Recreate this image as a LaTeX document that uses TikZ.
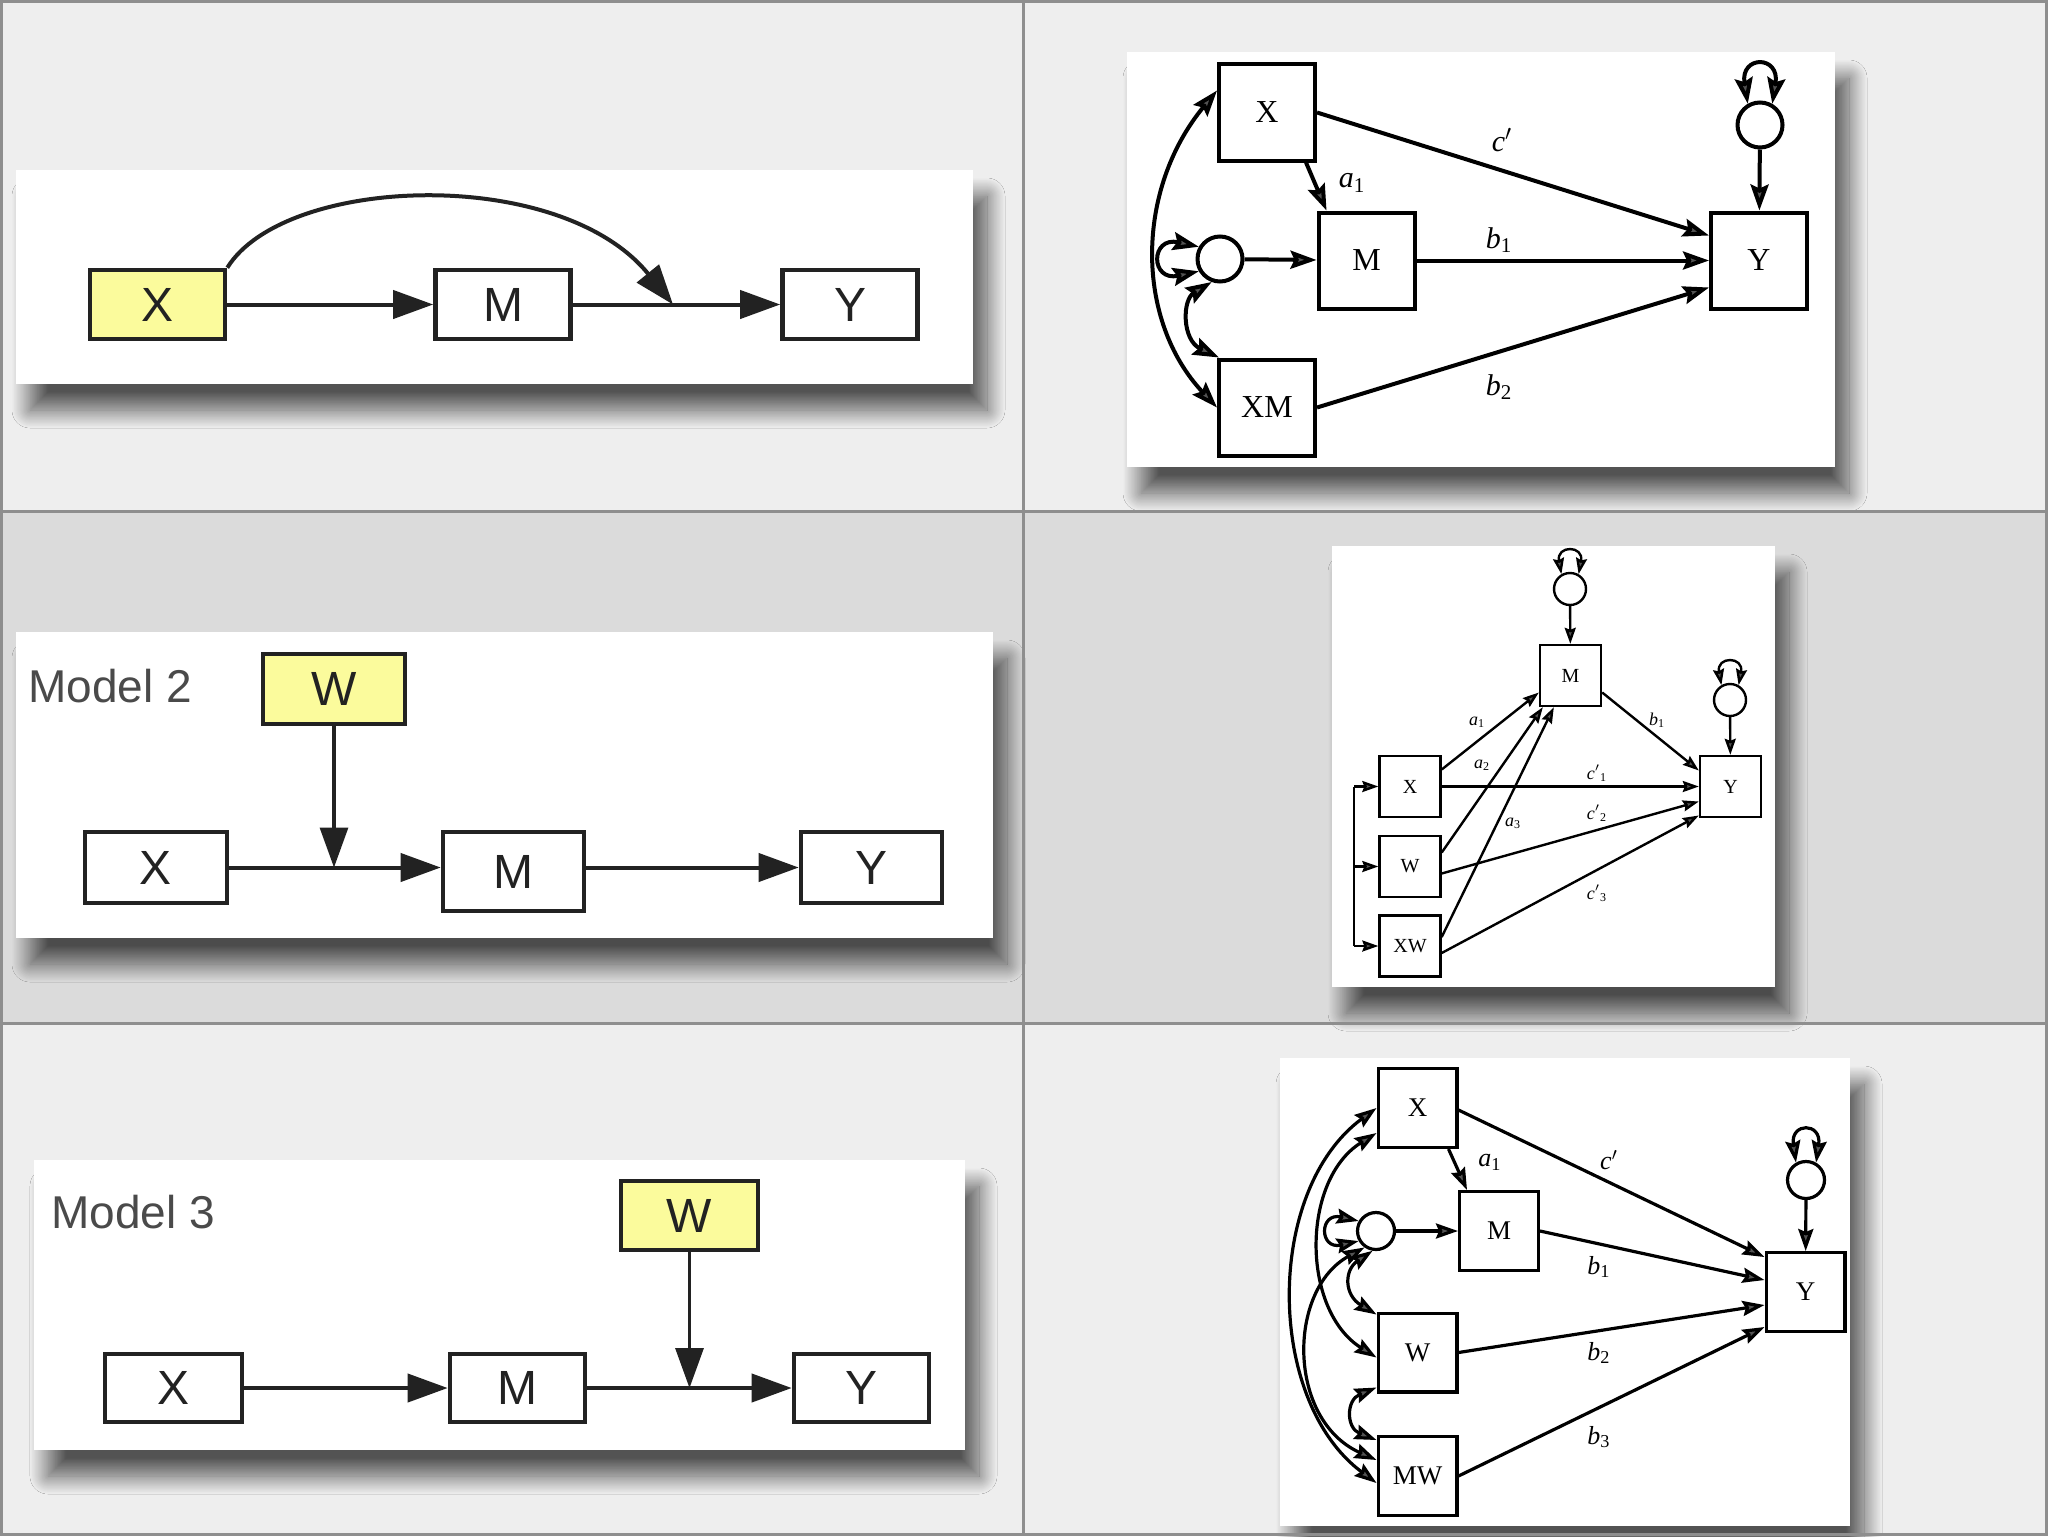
\documentclass[tikz,border=0pt]{standalone}
\usepackage{fontspec}
\setmainfont{Liberation Serif}
\newfontfamily\sansf{Liberation Sans}
\usetikzlibrary{arrows.meta,shadows.blur,calc}
\definecolor{rowa}{HTML}{EEEEEE}
\definecolor{rowb}{HTML}{DBDBDB}
\definecolor{gridc}{HTML}{8E8E8E}
\definecolor{hl}{HTML}{FBFB9C}
\definecolor{txt}{HTML}{222222}
\definecolor{mtxt}{HTML}{4A4A4A}
\begin{document}
\begin{tikzpicture}[x=0.5pt,y=-0.5pt,
  panel/.style={fill=white, blur shadow={shadow xshift=7pt, shadow yshift=-13pt, shadow blur radius=9pt, shadow blur steps=25, shadow opacity=65}},
  fbox/.style={draw=txt, line width=2.3pt, fill=white, inner sep=0pt, font=\sansf\fontsize{24}{24}\selectfont, text=txt},
  ybox/.style={fbox, fill=hl},
  farr/.style={line width=2pt, draw=txt, -{Triangle[length=20pt,width=14pt]}},
  mlab/.style={font=\sansf\fontsize{23}{23}\selectfont, text=mtxt, inner sep=0pt, anchor=base west}
]
\useasboundingbox (0,0) rectangle (2048,1536);
% grid background
\fill[rowa] (0,0) rectangle (2048,511);
\fill[rowb] (0,511) rectangle (2048,1023);
\fill[rowa] (0,1023) rectangle (2048,1536);

% panels
\path[panel] (16,170) rectangle (973,384);
\path[panel] (16,632) rectangle (993,938);
\path[panel] (34,1160) rectangle (965,1450);
\path[panel] (1127,52) rectangle (1835,467);
\path[panel] (1332,546) rectangle (1775,987);
\path[panel] (1280,1058) rectangle (1850,1526);

% grid lines
\draw[gridc, line width=1.5pt] (1023,0) -- (1023,1536);
\draw[gridc, line width=1.5pt] (0,511) -- (2048,511);
\draw[gridc, line width=1.5pt] (0,1023) -- (2048,1023);
\draw[gridc, line width=1.5pt] (1.5,1.5) rectangle (2046.5,1534.5);

% ---------- Panel 1 ----------
\node[ybox, minimum width=67.5pt, minimum height=34.5pt] (p1x) at (157.5,304.5) {X};
\node[fbox, minimum width=67.5pt, minimum height=34.5pt] (p1m) at (503,304.5) {M};
\node[fbox, minimum width=67.5pt, minimum height=34.5pt] (p1y) at (850,304.5) {Y};
\coordinate (p1j) at (673,304.5);
\draw[farr] (p1x) -- (p1m);
\draw[farr] (p1m) -- (p1y);
\draw[farr] (p1x.north east) .. controls (285,175) and (560,165) .. (p1j);

% ---------- Panel 2 ----------
\node[mlab] (p2t) at (28,702) {Model 2};
\node[ybox, minimum width=71pt, minimum height=35pt] (p2w) at (334,689) {W};
\node[fbox, minimum width=71pt, minimum height=35.5pt] (p2x) at (156,867.5) {X};
\node[fbox, minimum width=70.5pt, minimum height=39.5pt] (p2m) at (513.5,871.5) {M};
\node[fbox, minimum width=70.5pt, minimum height=35.5pt] (p2y) at (871.5,867.5) {Y};
\coordinate (p2j) at (334,867.5);
\draw[farr] (p2x.east) -- (p2x.east -| p2m.west);
\draw[farr] (p2m.east |- p2y.west) -- (p2y.west);
\draw[farr, line width=1.6pt] (p2w.south) -- (p2j);

% ---------- Panel 3 ----------
\node[mlab] (p3t) at (51,1228) {Model 3};
\node[ybox, minimum width=68.5pt, minimum height=34.5pt] (p3w) at (689.5,1215.5) {W};
\node[fbox, minimum width=68.5pt, minimum height=34pt] (p3x) at (173.5,1388) {X};
\node[fbox, minimum width=67.5pt, minimum height=34pt] (p3m) at (517.5,1388) {M};
\node[fbox, minimum width=67.5pt, minimum height=34pt] (p3y) at (861.5,1388) {Y};
\coordinate (p3j) at (689.5,1388);
\draw[farr] (p3x) -- (p3m);
\draw[farr] (p3m) -- (p3y);
\draw[farr, line width=1.6pt] (p3w.south) -- (p3j);

% ---------- Right panel 1 ----------
\begin{scope}[line width=2pt, >={Stealth[length=13pt,width=9pt,inset=2pt]},
  sb/.style={draw, inner sep=0pt, minimum size=48pt, font=\fontsize{16}{16}\selectfont},
  se/.style={draw, circle, inner sep=0pt, minimum size=22.5pt},
  lb/.style={font=\fontsize{15}{15}\selectfont\itshape}]
\node[sb] (r1x) at (1267,112.5) {X};
\node[sb] (r1m) at (1366.5,260.5) {M};
\node[sb] (r1y) at (1759,260.5) {Y};
\node[sb] (r1xm) at (1267,407.5) {XM};
\node[se] (r1e) at (1220,259) {};
\node[se] (r1f) at (1760,125) {};
\draw[->] (r1x.east) -- ($(r1y.west)+(0,-25)$);
\draw[->] (r1m) -- (r1y);
\draw[->] (r1xm.east) -- ($(r1y.west)+(0,27)$);
\draw[->] ($(r1x.south east)+(-11,0)$) -- ($(r1m.north west)+(10,0)$);
\draw[->] (r1e) -- (r1m);
\draw[->] (r1f) -- (r1y);
\draw[<->] ($(r1x.west)+(0,-22)$) .. controls (1135,190) and (1135,320) .. (r1xm.west);
\draw[<->] (r1e.250) .. controls (1182,300) and (1182,340) .. ($(r1xm.north west)+(2,0)$);
\draw[<->] (r1e.150) .. controls (1150,236) and (1150,282) .. (r1e.210);
\draw[<->] (r1f.120) .. controls (1740,55) and (1780,55) .. (r1f.60);
\node[lb] (r1lc) at (1502,140) {c$'$};
\node[lb] (r1la) at (1352,183) {a\textsubscript{\upshape 1}};
\node[lb] (r1lb1) at (1499,240) {b\textsubscript{\upshape 1}};
\node[lb] (r1lb2) at (1499,387) {b\textsubscript{\upshape 2}};
\end{scope}

% ---------- Right panel 2 ----------
\begin{scope}[line width=1.2pt, >={Stealth[length=8pt,width=5.5pt,inset=1pt]},
  sb/.style={draw, inner sep=0pt, minimum size=30.5pt, font=\fontsize{10}{10}\selectfont},
  se/.style={draw, circle, inner sep=0pt, minimum size=16pt},
  lb/.style={font=\fontsize{9}{9}\selectfont\itshape}]
\node[sb] (r2m) at (1570.5,675.5) {M};
\node[sb] (r2y) at (1730.5,786.5) {Y};
\node[sb] (r2x) at (1410,786.5) {X};
\node[sb] (r2w) at (1410,866.5) {W};
\node[sb] (r2xw) at (1410,946) {XW};
\node[se] (r2e) at (1570,589) {};
\node[se] (r2f) at (1730,700) {};
\coordinate (r2b1) at (1354,786.5);
\coordinate (r2b2) at (1354,866.5);
\coordinate (r2b3) at (1354,946);
\draw (r2b1) -- (r2b3);
\draw[->] (r2b1) -- (r2x.west);
\draw[->] (r2b2) -- (r2w.west);
\draw[->] (r2b3) -- (r2xw.west);
\draw[->] ($(r2x.east)+(0,-17)$) -- ($(r2m.west)+(0,17)$);
\draw[->] ($(r2w.east)+(0,-14)$) -- ($(r2m.south west)+(4,0)$);
\draw[->] ($(r2xw.east)+(0,-9)$) -- ($(r2m.south west)+(15,0)$);
\draw[->] ($(r2m.east)+(0,17)$) -- ($(r2y.west)+(0,-16)$);
\draw[->] (r2x.east) -- (r2y.west);
\draw[->] ($(r2w.east)+(0,7)$) -- ($(r2y.west)+(0,15)$);
\draw[->] ($(r2xw.east)+(0,7)$) -- ($(r2y.west)+(0,29)$);
\draw[->] (r2e) -- (r2m);
\draw[->] (r2f) -- (r2y);
\draw[<->] (r2e.120) .. controls (1556,545) and (1584,545) .. (r2e.60);
\draw[<->] (r2f.120) .. controls (1716,656) and (1744,656) .. (r2f.60);
\node[lb] (r2la1) at (1477,722) {a\textsubscript{\upshape 1}};
\node[lb] (r2la2) at (1482,765) {a\textsubscript{\upshape 2}};
\node[lb] (r2la3) at (1513,823) {a\textsubscript{\upshape 3}};
\node[lb] (r2lb1) at (1657,720) {b\textsubscript{\upshape 1}};
\node[lb] (r2lc1) at (1597,773) {c$'$\textsubscript{\upshape 1}};
\node[lb] (r2lc2) at (1597,813) {c$'$\textsubscript{\upshape 2}};
\node[lb] (r2lc3) at (1597,893) {c$'$\textsubscript{\upshape 3}};
\end{scope}

% ---------- Right panel 3 ----------
\begin{scope}[line width=1.6pt, >={Stealth[length=11pt,width=7.5pt,inset=1.5pt]},
  sb/.style={draw, inner sep=0pt, minimum size=39.4pt, font=\fontsize{13.5}{13.5}\selectfont},
  se/.style={draw, circle, inner sep=0pt, minimum size=18.5pt},
  lb/.style={font=\fontsize{13}{13}\selectfont\itshape}]
\node[sb] (r3x) at (1417.5,1108) {X};
\node[sb] (r3m) at (1499,1231) {M};
\node[sb] (r3w) at (1417.5,1352.5) {W};
\node[sb] (r3mw) at (1417.5,1476) {MW};
\node[sb] (r3y) at (1805.5,1292) {Y};
\node[se] (r3e) at (1376,1231) {};
\node[se] (r3f) at (1806,1180) {};
\draw[->] ($(r3x.east)+(0,2)$) -- ($(r3y.west)+(0,-35)$);
\draw[->] (r3m.east) -- ($(r3y.west)+(0,-12)$);
\draw[->] (r3w.east) -- ($(r3y.west)+(0,13)$);
\draw[->] (r3mw.east) -- ($(r3y.west)+(0,35)$);
\draw[->] ($(r3x.south east)+(-10,0)$) -- ($(r3m.north west)+(9,0)$);
\draw[->] (r3e) -- (r3m);
\draw[->] (r3f) -- (r3y);
\draw[<->] (r3x.west) .. controls (1265,1190) and (1265,1400) .. ($(r3mw.west)+(0,7)$);
\draw[<->] ($(r3x.west)+(0,25)$) .. controls (1301,1180) and (1301,1310) .. ($(r3w.west)+(0,5)$);
\draw[<->] (r3e.235) .. controls (1287,1290) and (1287,1420) .. ($(r3mw.west)+(0,-16)$);
\draw[<->] (r3e.260) .. controls (1344,1270) and (1344,1295) .. ($(r3w.north west)+(0,3)$);
\draw[<->] ($(r3w.south west)+(0,-6)$) .. controls (1346,1400) and (1346,1428) .. ($(r3mw.north west)+(0,5)$);
\draw[<->] (r3e.150) .. controls (1319,1212) and (1319,1250) .. (r3e.210);
\draw[<->] (r3f.120) .. controls (1790,1122) and (1822,1122) .. (r3f.60);
\node[lb] (r3la) at (1490,1162) {a\textsubscript{\upshape 1}};
\node[lb] (r3lc) at (1609,1160) {c$'$};
\node[lb] (r3lb1) at (1599,1267) {b\textsubscript{\upshape 1}};
\node[lb] (r3lb2) at (1599,1353) {b\textsubscript{\upshape 2}};
\node[lb] (r3lb3) at (1599,1437) {b\textsubscript{\upshape 3}};
\end{scope}
\end{tikzpicture}
\end{document}
